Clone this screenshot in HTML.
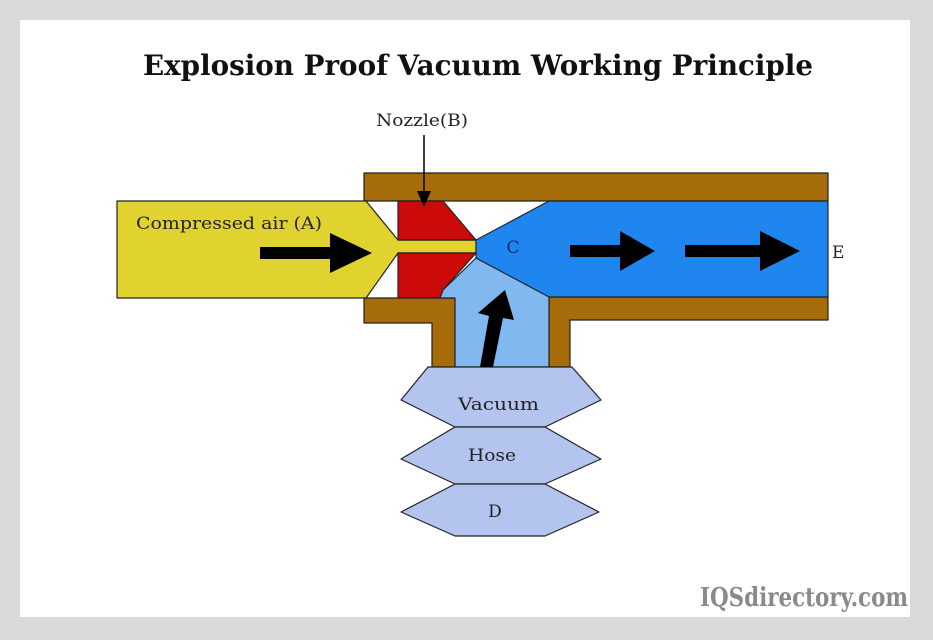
<!DOCTYPE html>
<html><head><style>
html,body{margin:0;padding:0;background:#d9d9d9;width:933px;height:640px;overflow:hidden}
svg{display:block}
</style></head><body>
<svg width="933" height="640" viewBox="0 0 933 640" xmlns="http://www.w3.org/2000/svg" font-family="'DejaVu Serif', 'Liberation Serif', serif">
<rect x="0" y="0" width="933" height="640" fill="#d9d9d9"/>
<rect x="20" y="20" width="890" height="597" fill="#ffffff"/>
<text x="143" y="75" font-size="28" font-weight="bold" fill="#111" textLength="670" lengthAdjust="spacingAndGlyphs">Explosion Proof Vacuum Working Principle</text>
<g stroke="#222" stroke-width="1.2" stroke-linejoin="round">
<rect x="364" y="173" width="464" height="28" fill="#a66c0a"/>
<path d="M364 298 H455 V367 H432 V323 H364 Z" fill="#a66c0a"/>
<path d="M549 297 H828 V320 H570 V367 H549 Z" fill="#a66c0a"/>
<path d="M117 201 H366 L398 240 H477 V253 H398 L366 298 H117 Z" fill="#e0d22f"/>
<path d="M398 201 H443 L476 240 H398 Z" fill="#cc0a0a"/>
<path d="M398 253 H476 L443 290 L440 298 H398 Z" fill="#cc0a0a"/>
<path d="M440 298 L443 290 L476 258 L549 296 V367 H455 V298 Z" fill="#80b8ef"/>
<path d="M476 240 L549 201 H828 V297 H549 L476 258 Z" fill="#1f86ef"/>
<path d="M428 367 H572 L601 400 L545 427 H455 L401 400 Z" fill="#b3c4ee"/>
<path d="M455 427 H545 L601 459 L545 484 H455 L401 459 Z" fill="#b3c4ee"/>
<path d="M455 484 H545 L599 512 L545 536 H455 L401 512 Z" fill="#b3c4ee"/>
</g>
<g fill="#000">
<rect x="260" y="247" width="72" height="12"/>
<polygon points="330,233 372,253 330,273"/>
<rect x="570" y="245" width="52" height="12"/>
<polygon points="620,231 655,251 620,271"/>
<rect x="685" y="245" width="77" height="12"/>
<polygon points="760,231 800,251 760,271"/>
<polygon points="480,367 493,367 503,318 514,320 505,290 478,313 489,316"/>
</g>
<line x1="424" y1="135" x2="424" y2="195" stroke="#000" stroke-width="1.5"/>
<polygon points="417,191 431,191 424,207" fill="#000"/>
<g font-size="17" fill="#222">
<text x="376" y="126" textLength="92" lengthAdjust="spacingAndGlyphs">Nozzle(B)</text>
<text x="136" y="229" textLength="186" lengthAdjust="spacingAndGlyphs">Compressed air (A)</text>
<text x="513" y="253" text-anchor="middle" fill="#0b2a66">C</text>
<text x="832" y="258">E</text>
<text x="458" y="410" textLength="81" lengthAdjust="spacingAndGlyphs">Vacuum</text>
<text x="468" y="461" textLength="48" lengthAdjust="spacingAndGlyphs">Hose</text>
<text x="495" y="517" text-anchor="middle">D</text>
</g>
<text x="700" y="606" font-size="26" font-weight="bold" fill="#8a8a8a" textLength="208" lengthAdjust="spacingAndGlyphs">IQSdirectory.com</text>
</svg>
</body></html>
